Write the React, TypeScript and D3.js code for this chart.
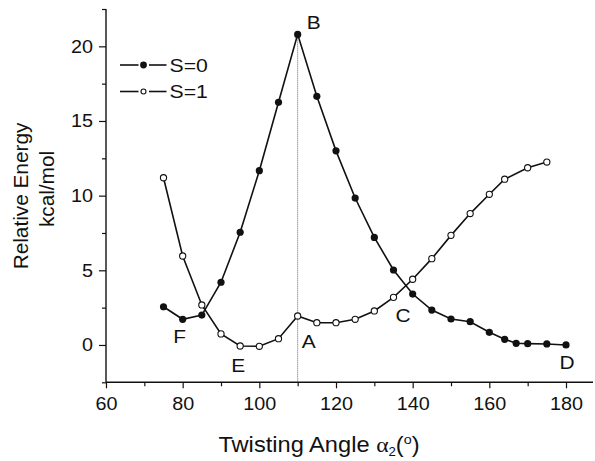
import React, { useEffect, useRef } from 'react';
import * as d3 from 'd3';

// S=0 (filled circles)
const s0Angle = [75, 80, 85, 90, 95, 100, 105, 110, 115, 120, 125, 130, 135, 140, 145, 150, 155, 160, 164, 167, 170, 175, 180];
const s0Energy = [2.56, 1.72, 2.0, 4.2, 7.55, 11.67, 16.25, 20.8, 16.65, 13.0, 9.84, 7.2, 5.02, 3.41, 2.34, 1.74, 1.56, 0.85, 0.38, 0.11, 0.09, 0.07, 0.0];

// S=1 (open circles)
const s1Angle = [75, 80, 85, 90, 95, 100, 105, 110, 115, 120, 125, 130, 135, 140, 145, 150, 155, 160, 164, 170, 175];
const s1Energy = [11.2, 5.96, 2.68, 0.74, -0.07, -0.09, 0.42, 1.94, 1.49, 1.49, 1.72, 2.28, 3.19, 4.4, 5.78, 7.34, 8.8, 10.09, 11.1, 11.87, 12.25];

const xMajor = [60, 80, 100, 120, 140, 160, 180];
const xMinor = [70, 90, 110, 130, 150, 170];
const yMajor = [0, 5, 10, 15, 20];
const yMinor = [-2.5, 2.5, 7.5, 12.5, 17.5, 22.5];

// point labels: [text, angle, energy]
const pointLabels: [string, number, number][] = [
  ['B', 110, 20.8],
  ['A', 110, 1.94],
  ['C', 138, 3.9],
  ['D', 180, 0],
  ['F', 80, 1.72],
  ['E', 95, -0.07],
];

const font = "'Liberation Sans', Arial, sans-serif";
const sx = 1.1; // the original lettering is a little wider than Liberation Sans

export default function App() {
  const ref = useRef<SVGSVGElement>(null);

  useEffect(() => {
    const svg = d3.select(ref.current);
    svg.selectAll('*').remove();

    const x = d3.scaleLinear().domain([60, 180]).range([106, 566]);
    const y = d3.scaleLinear().domain([-2.5, 22.5]).range([382.3, 9]);
    const x0 = 106, y0 = 382.3;

    // axes lines
    svg.append('line').attr('x1', x0).attr('x2', 593).attr('y1', y0).attr('y2', y0)
      .attr('stroke', '#111').attr('stroke-width', 1.4);
    svg.append('line').attr('x1', x0).attr('x2', x0).attr('y1', y0).attr('y2', y(22.5))
      .attr('stroke', '#111').attr('stroke-width', 1.4);

    // x axis
    const gx = svg.append('g').attr('transform', `translate(0, ${y0})`);
    gx.call(d3.axisBottom(x).tickValues(xMajor).tickSize(6).tickPadding(9).tickFormat(d3.format('d')));
    gx.append('g').call(d3.axisBottom(x).tickValues(xMinor).tickSize(4).tickFormat(() => ''));
    gx.selectAll('.domain').remove();
    gx.selectAll('line').attr('stroke', '#111').attr('stroke-width', 1.2);
    gx.selectAll('text').attr('fill', '#111').attr('transform', `scale(${sx},1)`)
      .style('font-family', font).style('font-size', '18px');

    // y axis
    const gy = svg.append('g').attr('transform', `translate(${x0}, 0)`);
    gy.call(d3.axisLeft(y).tickValues(yMajor).tickSize(7).tickPadding(6).tickFormat(d3.format('d')));
    gy.append('g').call(d3.axisLeft(y).tickValues(yMinor).tickSize(4).tickFormat(() => ''));
    gy.selectAll('.domain').remove();
    gy.selectAll('line').attr('stroke', '#111').attr('stroke-width', 1.2);
    gy.selectAll('text').attr('fill', '#111').attr('x', -13 / sx).attr('transform', `scale(${sx},1)`)
      .style('font-family', font).style('font-size', '18px');

    // dotted vertical line at 110
    svg.append('line')
      .attr('x1', x(110)).attr('x2', x(110))
      .attr('y1', y(20.8)).attr('y2', y0)
      .attr('stroke', '#555').attr('stroke-width', 0.9).attr('stroke-dasharray', '1,1');

    const s0 = s0Angle.map((a, i) => [x(a), y(s0Energy[i])] as [number, number]);
    const s1 = s1Angle.map((a, i) => [x(a), y(s1Energy[i])] as [number, number]);
    const path = d3.line();

    svg.append('path').attr('d', path(s0)).attr('fill', 'none').attr('stroke', '#111').attr('stroke-width', 1.6);
    svg.append('path').attr('d', path(s1)).attr('fill', 'none').attr('stroke', '#111').attr('stroke-width', 1.6);

    svg.selectAll('.dot0').data(s0).join('circle').attr('class', 'dot0')
      .attr('cx', d => d[0]).attr('cy', d => d[1]).attr('r', 3.6).attr('fill', '#111');
    svg.selectAll('.dot1').data(s1).join('circle').attr('class', 'dot1')
      .attr('cx', d => d[0]).attr('cy', d => d[1]).attr('r', 3.1)
      .attr('fill', '#fff').attr('stroke', '#111').attr('stroke-width', 1.1);

    // point labels
    const offsets: Record<string, [number, number]> = {
      B: [16, -5], A: [11, 32], C: [-2, 35], D: [1, 24], F: [-3, 24], E: [-2, 26],
    };
    svg.selectAll('.plabel').data(pointLabels).join('text').attr('class', 'plabel')
      .attr('transform', d => `translate(${x(d[1]) + offsets[d[0]][0]}, ${y(d[2]) + offsets[d[0]][1]}) scale(${sx},1)`)
      .attr('text-anchor', 'middle')
      .attr('fill', '#111')
      .style('font-family', font).style('font-size', '19px')
      .text(d => d[0]);

    // legend
    const legend = [
      { label: 'S=0', filled: true, yy: 65 },
      { label: 'S=1', filled: false, yy: 91.5 },
    ];
    legend.forEach(l => {
      const g = svg.append('g');
      g.append('line').attr('x1', 120).attr('x2', 138.5).attr('y1', l.yy).attr('y2', l.yy)
        .attr('stroke', '#111').attr('stroke-width', 1.6);
      g.append('line').attr('x1', 149).attr('x2', 166.5).attr('y1', l.yy).attr('y2', l.yy)
        .attr('stroke', '#111').attr('stroke-width', 1.6);
      g.append('circle').attr('cx', 143.5).attr('cy', l.yy).attr('r', l.filled ? 3.4 : 2.5)
        .attr('fill', l.filled ? '#111' : '#fff')
        .attr('stroke', l.filled ? 'none' : '#111').attr('stroke-width', 1.1);
      g.append('text').attr('transform', `translate(169.5, ${l.yy + 6.5}) scale(1.18,1)`)
        .attr('fill', '#111').style('font-family', font).style('font-size', '18px')
        .text(l.label);
    });

    // axis titles
    svg.append('text')
      .attr('transform', `translate(319, 452) scale(${sx},1)`)
      .attr('text-anchor', 'middle')
      .attr('fill', '#111')
      .style('font-family', font).style('font-size', '21.5px')
      .html('Twisting Angle <tspan font-family="\'Liberation Serif\', serif">&#945;</tspan><tspan font-size="12px" dy="4">2</tspan><tspan dy="-4">(</tspan><tspan font-size="13px" dy="-8">o</tspan><tspan dy="8">)</tspan>');

    svg.append('text')
      .attr('transform', `translate(28, 196) rotate(-90) scale(1.04,1)`)
      .attr('text-anchor', 'middle')
      .attr('fill', '#111')
      .style('font-family', font).style('font-size', '20px')
      .text('Relative Energy');
    svg.append('text')
      .attr('transform', `translate(54, 189) rotate(-90) scale(1.04,1)`)
      .attr('text-anchor', 'middle')
      .attr('fill', '#111')
      .style('font-family', font).style('font-size', '20px')
      .text('kcal/mol');
  }, []);

  return (
    <svg ref={ref} width={595} height={461}
      style={{ position: 'absolute', left: 0, top: 0, background: '#fff' }} />
  );
}
